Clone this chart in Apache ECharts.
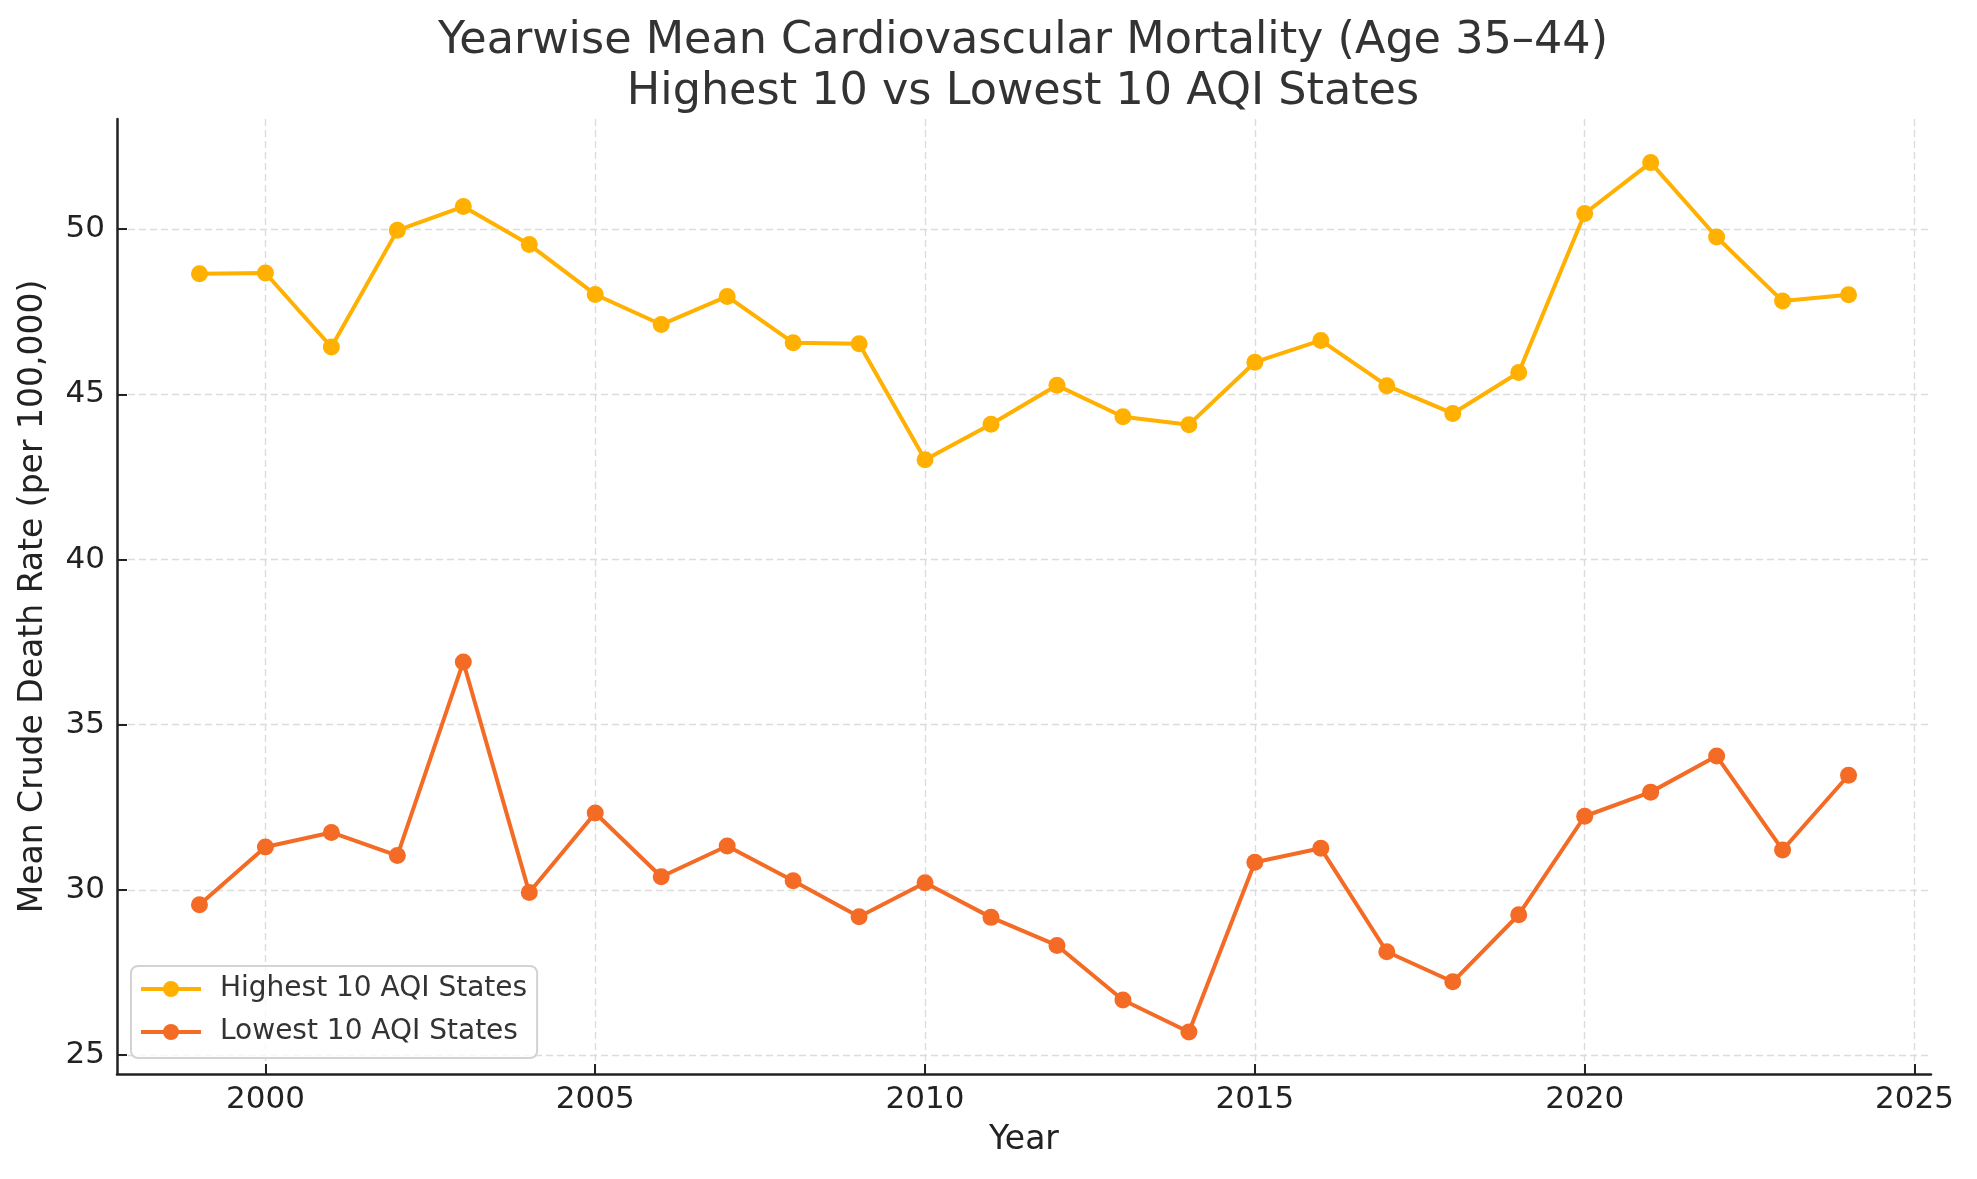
<!DOCTYPE html>
<html>
<head>
<meta charset="utf-8">
<script src="https://cdn.jsdelivr.net/npm/echarts@6/dist/echarts.min.js"></script>
<style>
  html, body { margin: 0; padding: 0; background: #fff; }
  #chart { width: 1977px; height: 1179px; }
</style>
</head>
<body>
<div id="chart"></div>
<script>
const years = [1999,2000,2001,2002,2003,2004,2005,2006,2007,2008,2009,2010,2011,2012,2013,2014,2015,2016,2017,2018,2019,2020,2021,2022,2023,2024];
const highest10 = [48.65,48.67,46.43,49.96,50.68,49.53,48.02,47.11,47.96,46.56,46.53,43.02,44.09,45.27,44.32,44.08,45.97,46.63,45.26,44.42,45.66,50.47,52.01,49.76,47.82,48.01];
const lowest10 = [29.55,31.30,31.74,31.04,36.90,29.92,32.33,30.40,31.33,30.28,29.19,30.22,29.17,28.32,26.67,25.70,30.84,31.26,28.13,27.22,29.25,32.23,32.96,34.05,31.21,33.47];
const xTicks = [2000,2005,2010,2015,2020,2025];
const yTicks = [25,30,35,40,45,50];
const seriesNames = ['Highest 10 AQI States','Lowest 10 AQI States'];

const FONT = 'DejaVu Sans';
const chart = echarts.init(document.getElementById('chart'), null, { renderer: 'canvas' });

const axisCommon = {
  type: 'value',
  axisLine: { show: true, lineStyle: { color: '#222', width: 2.5 } },
  axisTick: { show: true, inside: true, length: 10, lineStyle: { color: '#222', width: 2 } },
  splitLine: { show: true, lineStyle: { color: '#dcdcdc', width: 1.4, type: [7, 4] } },
  nameTextStyle: { fontFamily: FONT, fontSize: 33, color: '#222' },
  nameLocation: 'middle'
};

chart.setOption({
  backgroundColor: '#fff',
  animation: false,
  title: {
    text: 'Yearwise Mean Cardiovascular Mortality (Age 35–44)\nHighest 10 vs Lowest 10 AQI States',
    left: 1018,
    textAlign: 'center',
    top: 11,
    textStyle: { fontFamily: FONT, fontSize: 44.5, fontWeight: 'normal', color: '#333', lineHeight: 51 }
  },
  grid: { left: 117, right: 46, top: 119, bottom: 105, containLabel: false },
  legend: {
    orient: 'vertical',
    left: 131,
    top: 966,
    padding: [9, 10, 12, 8],
    itemGap: 15,
    itemWidth: 60,
    itemHeight: 20,
    borderColor: '#d3d3d3',
    borderWidth: 2,
    borderRadius: 7,
    backgroundColor: 'rgba(255,255,255,0.8)',
    lineStyle: { width: 4 },
    textStyle: { fontFamily: FONT, fontSize: 28, color: '#333', padding: [0, 0, 0, 14] },
    data: seriesNames
  },
  xAxis: Object.assign({}, axisCommon, {
    name: 'Year',
    nameGap: 50,
    min: 1997.75,
    max: 2025.25,
    axisTick: Object.assign({}, axisCommon.axisTick, { customValues: xTicks }),
    axisLabel: { customValues: xTicks, margin: 10, fontFamily: FONT, fontSize: 31, color: '#222', formatter: v => String(v) }
  }),
  yAxis: Object.assign({}, axisCommon, {
    name: 'Mean Crude Death Rate (per 100,000)',
    nameGap: 67,
    nameRotate: 90,
    min: 24.43,
    max: 53.33,
    axisTick: Object.assign({}, axisCommon.axisTick, { customValues: yTicks }),
    axisLabel: { customValues: yTicks, margin: 12, fontFamily: FONT, fontSize: 31, color: '#222', formatter: v => String(v) }
  }),
  series: [
    {
      name: seriesNames[0],
      type: 'line',
      data: years.map((y, i) => [y, highest10[i]]),
      symbol: 'circle',
      symbolSize: 17,
      color: '#FFB000',
      lineStyle: { width: 4, color: '#FFB000' },
      itemStyle: { color: '#FFB000' }
    },
    {
      name: seriesNames[1],
      type: 'line',
      data: years.map((y, i) => [y, lowest10[i]]),
      symbol: 'circle',
      symbolSize: 17,
      color: '#F36B24',
      lineStyle: { width: 4, color: '#F36B24' },
      itemStyle: { color: '#F36B24' }
    }
  ]
});
</script>
</body>
</html>
